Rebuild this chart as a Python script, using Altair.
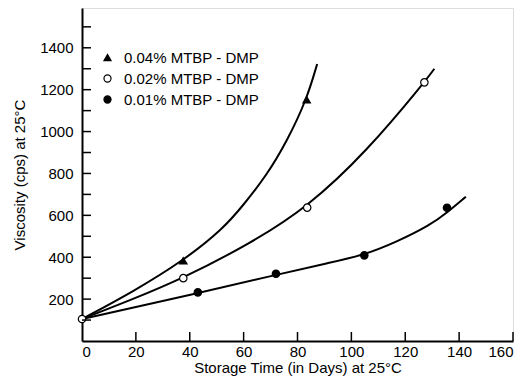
import altair as alt
import pandas as pd

FONT = "Liberation Sans"

series = ["0.04% MTBP - DMP", "0.02% MTBP - DMP", "0.01% MTBP - DMP"]

# fitted curves
curve_04_x = [0, 19, 37.6, 52.5, 59.9, 68.6, 76.0, 83.4, 87.3]
curve_04_y = [105, 236, 383, 537, 649, 792, 952, 1152, 1323]
curve_02_x = [0, 19, 37.6, 62.4, 83.6, 105.7, 127.1, 130.8]
curve_02_y = [105, 200, 300, 465, 637, 905, 1235, 1300]
curve_01_x = [0, 43, 72, 92, 104.4, 116.8, 129.2, 135.4, 142.5]
curve_01_y = [105, 228, 316, 374, 409, 473, 553, 612, 689]

# measured points
pts_04_x = [37.6, 83.4]
pts_04_y = [383, 1152]
pts_02_x = [0, 37.6, 83.6, 127.1]
pts_02_y = [105, 300, 637, 1235]
pts_01_x = [43, 72, 104.8, 135.5]
pts_01_y = [232, 321, 409, 636]

x_ticks = [20, 40, 60, 80, 100, 120, 140, 160]
x_labels = [0, 20, 40, 60, 80, 100, 120, 140, 160]
y_ticks = [100, 200, 300, 400, 500, 600, 700, 800, 900, 1000, 1100, 1200, 1300, 1400, 1500]
y_labels = [200, 400, 600, 800, 1000, 1200, 1400]

curves = pd.concat([
    pd.DataFrame({"series": series[0], "x": curve_04_x, "y": curve_04_y}),
    pd.DataFrame({"series": series[1], "x": curve_02_x, "y": curve_02_y}),
    pd.DataFrame({"series": series[2], "x": curve_01_x, "y": curve_01_y}),
])
points = pd.concat([
    pd.DataFrame({"series": series[0], "x": pts_04_x, "y": pts_04_y}),
    pd.DataFrame({"series": series[1], "x": pts_02_x, "y": pts_02_y}),
    pd.DataFrame({"series": series[2], "x": pts_01_x, "y": pts_01_y}),
])

W, H = 431, 333
xs = alt.Scale(domain=[0, 160], nice=False)
ys = alt.Scale(domain=[0, 1590], nice=False)

xax = alt.Axis(values=x_labels, ticks=False, grid=False, domainColor="black", domainWidth=2,
               labelFont=FONT, labelFontSize=15, labelColor="black", labelPadding=3,
               title="Storage Time (in Days)  at 25°C", titleFont=FONT, titleFontSize=15,
               titleFontWeight="normal", titleColor="black", titlePadding=1)
yax = alt.Axis(values=y_labels, ticks=False, grid=False, domainColor="black", domainWidth=2,
               format="d",
               labelFont=FONT, labelFontSize=15, labelColor="black", labelPadding=9,
               title="Viscosity (cps)  at 25°C", titleFont=FONT, titleFontSize=15,
               titleFontWeight="normal", titleColor="black", titlePadding=12)

lines = alt.Chart(curves).mark_line(interpolate="basis", color="black", strokeWidth=2).encode(
    x=alt.X("x:Q", scale=xs, axis=xax),
    y=alt.Y("y:Q", scale=ys, axis=yax),
    detail="series:N",
)

legend = alt.Legend(orient="none", legendX=18, legendY=42, title=None, labelFont=FONT,
                    labelFontSize=15, labelColor="black",
                    symbolStrokeWidth=1.2, rowPadding=5, labelOffset=9, symbolSize=50)
pts = alt.Chart(points).mark_point(strokeWidth=1.2, opacity=1, fillOpacity=1).encode(
    x=alt.X("x:Q", scale=xs),
    y=alt.Y("y:Q", scale=ys),
    shape=alt.Shape("series:N", scale=alt.Scale(domain=series, range=["triangle-up", "circle", "circle"]), legend=legend),
    fill=alt.Fill("series:N", scale=alt.Scale(domain=series, range=["black", "white", "black"]), legend=legend),
    stroke=alt.Stroke("series:N", scale=alt.Scale(domain=series, range=["black", "black", "black"]), legend=legend),
    size=alt.value(55),
)

xt = alt.Chart(pd.DataFrame({"t": x_ticks})).mark_rule(color="black", strokeWidth=1.5).encode(
    x=alt.X("t:Q", scale=xs), y=alt.value(H), y2=alt.value(H - 9))
yt = alt.Chart(pd.DataFrame({"t": y_ticks})).mark_rule(color="black", strokeWidth=1.5).encode(
    y=alt.Y("t:Q", scale=ys), x=alt.value(0), x2=alt.value(9))

chart = alt.layer(lines, pts, xt, yt).properties(
    width=W, height=H,
    autosize=alt.AutoSizeParams(type="none"),
    padding={"left": 74, "top": 0, "right": 8, "bottom": 37},
).configure_view(stroke=None).configure(background="white")

chart.save("out.html", embed_options={"renderer": "svg", "actions": False})
